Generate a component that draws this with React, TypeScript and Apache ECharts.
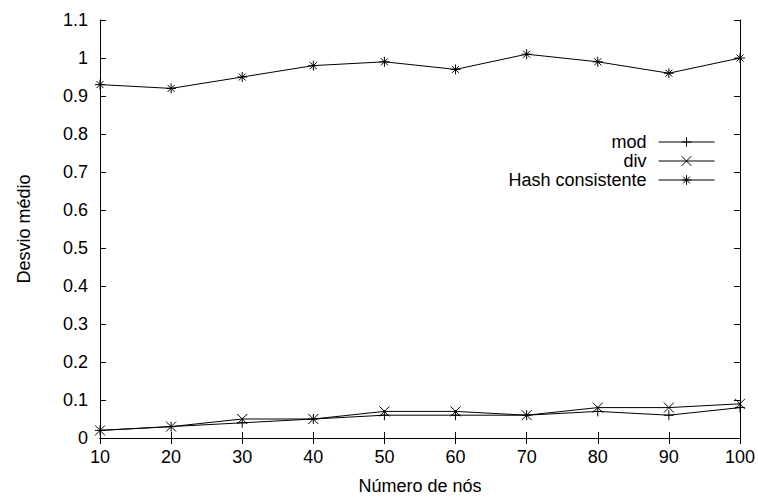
import React, { useEffect, useRef } from "react";
import * as echarts from "echarts";

const nodes = [10, 20, 30, 40, 50, 60, 70, 80, 90, 100];
const modValues = [0.02, 0.03, 0.04, 0.05, 0.06, 0.06, 0.06, 0.07, 0.06, 0.08];
const divValues = [0.02, 0.03, 0.05, 0.05, 0.07, 0.07, 0.06, 0.08, 0.08, 0.09];
const hashValues = [0.93, 0.92, 0.95, 0.98, 0.99, 0.97, 1.01, 0.99, 0.96, 1.0];
const seriesNames = ["mod", "div", "Hash consistente"];

const PLUS = "path://M0,5L10,5M5,0L5,10";
const CROSS = "path://M0,0L10,10M0,10L10,0";
const STAR = "path://M0,5L10,5M5,0L5,10M1.5,1.5L8.5,8.5M1.5,8.5L8.5,1.5";

const FONT = "Liberation Sans, Arial, sans-serif";
const FS = 18;

export default function App() {
  const ref = useRef<HTMLDivElement>(null);
  useEffect(() => {
    const chart = echarts.init(ref.current!, null, { renderer: "svg" });
    const mk = (name: string, vals: number[], symbol: string) => ({
      name,
      type: "line",
      data: nodes.map((x, i) => [x, vals[i]]),
      symbol,
      symbolSize: 10,
      showAllSymbol: true,
      lineStyle: { color: "#000", width: 1 },
      itemStyle: { color: "#000", borderColor: "#000", borderWidth: 1 },
      emphasis: { disabled: true },
    });
    const axisCommon = {
      axisLine: { show: true, lineStyle: { color: "#000", width: 1 } },
      axisTick: { show: true, inside: true, length: 6, lineStyle: { color: "#000" } },
      splitLine: { show: false },
    };
    chart.setOption({
      animation: false,
      backgroundColor: "#fff",
      grid: { left: 100, right: 18, top: 20, bottom: 60 },
      legend: {
        orient: "vertical",
        right: 43,
        top: 133,
        align: "right",
        itemWidth: 56,
        itemHeight: 12,
        itemGap: 1,
        padding: 0,
        data: seriesNames,
        lineStyle: { width: 1, color: "#000" },
        itemStyle: { color: "#000", borderColor: "#000", borderWidth: 1 },
        textStyle: { fontFamily: FONT, fontSize: FS, color: "#000", padding: [0, 7, 0, 0] },
      },
      xAxis: [
        {
          type: "value",
          min: 10,
          max: 100,
          interval: 10,
          name: "Número de nós",
          nameLocation: "middle",
          nameGap: 39,
          nameTextStyle: { fontFamily: FONT, fontSize: FS, color: "#000" },
          axisLabel: { fontFamily: FONT, fontSize: FS, color: "#000", margin: 10 },
          ...axisCommon,
        },
        {
          type: "value",
          position: "top",
          min: 10,
          max: 100,
          interval: 10,
          axisLabel: { show: false },
          ...axisCommon,
        },
      ],
      yAxis: [
        {
          type: "value",
          min: 0,
          max: 1.1,
          interval: 0.1,
          name: "Desvio médio",
          nameLocation: "middle",
          nameGap: 67,
          nameTextStyle: { fontFamily: FONT, fontSize: FS, color: "#000" },
          axisLabel: {
            fontFamily: FONT,
            fontSize: FS,
            color: "#000",
            margin: 12,
            formatter: (v: number) => String(Number(v.toFixed(1))),
          },
          ...axisCommon,
        },
        {
          type: "value",
          position: "right",
          min: 0,
          max: 1.1,
          interval: 0.1,
          axisLabel: { show: false },
          ...axisCommon,
        },
      ],
      series: [mk("mod", modValues, PLUS), mk("div", divValues, CROSS), mk("Hash consistente", hashValues, STAR)],
    });
    return () => chart.dispose();
  }, []);
  return (
    <div
      ref={ref}
      style={{ width: 758, height: 500, position: "absolute", left: 0, top: 0 }}
    />
  );
}
